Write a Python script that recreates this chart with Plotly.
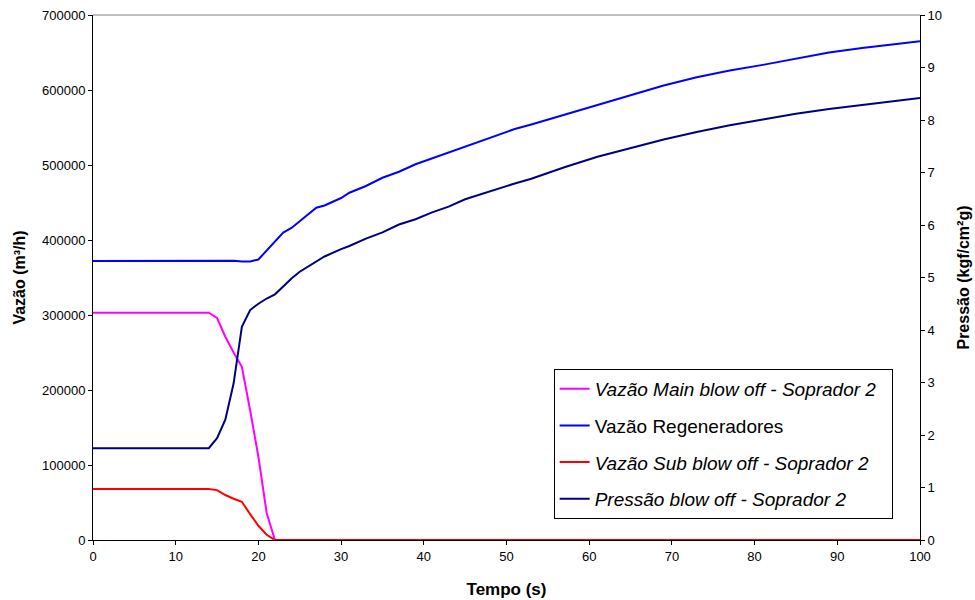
import plotly.graph_objects as go

tempo = [0, 5, 10, 14, 15, 16, 17, 18, 19, 20, 21, 22, 23, 24, 25, 27, 28, 30, 31, 33, 35,
         37, 39, 41, 43, 45, 47, 49, 51, 53, 57, 61, 65, 69, 73, 77, 81, 85, 89, 93, 97, 100]

vazao_main = [303000, 303000, 303000, 303000, 296000, 271000, 250000, 231000, 173000, 111000, 36000, 0,
              0, 0, 0, 0, 0, 0, 0, 0, 0, 0, 0, 0, 0, 0, 0, 0, 0, 0, 0, 0, 0, 0, 0, 0, 0, 0, 0, 0, 0, 0]

vazao_regen = [372000, 372000, 372500, 373000, 373000, 373000, 372500, 371500, 371500, 374000, 386000, 398000,
               410000, 416000, 425000, 443000, 446000, 456000, 463000, 472000, 483000,
               491000, 501000, 509000, 517000, 525000, 533000, 540000, 548000, 554000, 567000, 581000,
               594000, 606000, 617000, 626000, 633500, 642000, 650000, 656000, 661500, 665000]

vazao_sub = [68000, 68000, 68000, 68000, 66500, 60000, 55000, 51000, 34500, 19000, 7000, 0,
             0, 0, 0, 0, 0, 0, 0, 0, 0, 0, 0, 0, 0, 0, 0, 0, 0, 0, 0, 0, 0, 0, 0, 0, 0, 0, 0, 0, 0, 0]

pressao = [1.75, 1.75, 1.75, 1.75, 1.94, 2.29, 2.98, 4.06, 4.38, 4.50, 4.60, 4.68,
           4.83, 4.98, 5.11, 5.30, 5.40, 5.54, 5.60, 5.74, 5.86,
           6.01, 6.11, 6.24, 6.35, 6.49, 6.59, 6.70, 6.79, 6.88, 7.10, 7.30,
           7.46, 7.63, 7.77, 7.90, 8.01, 8.12, 8.21, 8.29, 8.36, 8.42]

left_ticks = [0, 100000, 200000, 300000, 400000, 500000, 600000, 700000]
right_ticks = [0, 1, 2, 3, 4, 5, 6, 7, 8, 9, 10]
x_ticks = [0, 10, 20, 30, 40, 50, 60, 70, 80, 90, 100]

names = ["<i>Vazão Main blow off - Soprador 2</i>\u00a0\u00a0", "Vazão Regeneradores",
         "<i>Vazão Sub blow off - Soprador 2</i>", "<i>Pressão blow off - Soprador 2</i>"]

fig = go.Figure()
fig.add_trace(go.Scatter(x=tempo, y=vazao_main, mode="lines", name=names[0],
                         line=dict(color="#FF00FF", width=2), legendgroup="a"))
fig.add_trace(go.Scatter(x=tempo, y=vazao_regen, mode="lines", name=names[1],
                         line=dict(color="#0000FF", width=2), legendgroup="b"))
fig.add_trace(go.Scatter(x=tempo, y=vazao_sub, mode="lines", name=names[2],
                         line=dict(color="#FF0000", width=2), legendgroup="c"))
fig.add_trace(go.Scatter(x=tempo, y=pressao, mode="lines", name=names[3], yaxis="y2",
                         line=dict(color="#000080", width=2), legendgroup="d"))

font = "Liberation Sans, Arial, sans-serif"
fig.update_layout(
    width=975, height=600,
    margin=dict(l=93, r=55, t=15, b=60),
    plot_bgcolor="white", paper_bgcolor="white",
    font=dict(family=font, size=13, color="black"),
    showlegend=True,
    legend=dict(x=0.557, y=0.326, xanchor="left", yanchor="top",
                bordercolor="black", borderwidth=1, bgcolor="white",
                font=dict(family=font, size=19, color="black"),
                tracegroupgap=9, traceorder="grouped"),
    xaxis=dict(range=[0, 100], tickvals=x_ticks, showgrid=False, zeroline=False,
               showline=True, linecolor="black", linewidth=1, ticks="outside",
               ticklen=4, tickcolor="black", automargin=False,
               title=dict(text="<b>Tempo (s)</b>", font=dict(size=17), standoff=20)),
    yaxis=dict(range=[0, 700000], tickvals=left_ticks, showgrid=False, zeroline=False,
               showline=True, linecolor="black", linewidth=1, ticks="outside",
               ticklen=4, tickcolor="black", tickformat="d", automargin=False,
               title=dict(text="<b>Vazão (m³/h)</b>", font=dict(size=16), standoff=12)),
    yaxis2=dict(range=[0, 10], tickvals=right_ticks, overlaying="y", side="right",
                showgrid=False, zeroline=False, showline=True, linecolor="black",
                linewidth=1, ticks="outside", ticklen=4, tickcolor="black", automargin=False,
                title=dict(text="<b>Pressão (kgf/cm²g)</b>", font=dict(size=16), standoff=16)),
    shapes=[dict(type="line", xref="paper", yref="paper", x0=0, x1=1, y0=1, y1=1,
                 line=dict(color="#808080", width=1))],
)

fig.write_html("out.html")
